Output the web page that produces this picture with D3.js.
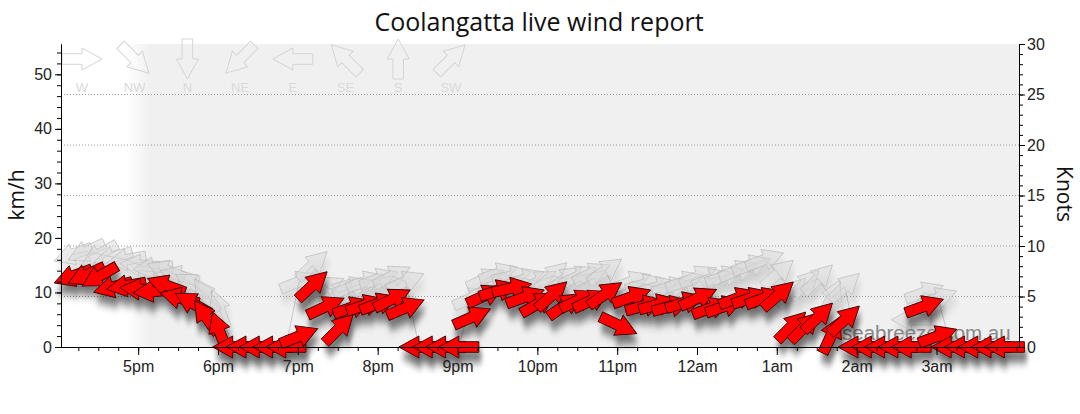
<!DOCTYPE html>
<html>
<head>
<meta charset="utf-8">
<script src="https://cdn.jsdelivr.net/npm/d3@7"></script>
<style>
  body { margin: 0; background: #fff; }
  svg { display: block; }
  .axis text { font-family: "Liberation Sans", Arial, sans-serif; font-size: 16px; fill: #222; }
  .axis path, .axis line { stroke: #000; }
</style>
</head>
<body>
<div id="chart"></div>
<script>
// observations every 10 minutes, 4:11pm -> 3:51am
var times = [
  "16:11","16:21","16:31","16:41","16:51",
  "17:01","17:11","17:21","17:31","17:41","17:51",
  "18:01","18:11","18:21","18:31","18:41","18:51",
  "19:01","19:11","19:21","19:31","19:41","19:51",
  "20:01","20:11","20:21","20:31","20:41","20:51",
  "21:01","21:11","21:21","21:31","21:41","21:51",
  "22:01","22:11","22:21","22:31","22:41","22:51",
  "23:01","23:11","23:21","23:31","23:41","23:51",
  "00:01","00:11","00:21","00:31","00:41","00:51",
  "01:01","01:11","01:21","01:31","01:41","01:51",
  "02:01","02:11","02:21","02:31","02:41","02:51",
  "03:01","03:11","03:21","03:31","03:41","03:51"
];
// wind speed, km/h
var speeds = [
  13, 13.2, 13, 11, 11.2,
  10.6, 10.2, 11.3, 9, 8, 5.5,
  3, 0, 0, 0, 0, 0,
  2, 11.3, 7.4, 3.4, 7.3, 7.7,
  8, 8.8, 7.2, 0, 0, 0,
  0, 5.5, 9.5, 10.4, 10.8, 9.2,
  8, 9.5, 7.7, 8.6, 8.6, 9.7,
  4, 9.2, 7.6, 7.8, 7.5, 8.2,
  9, 7.2, 7.5, 9, 9, 9,
  9.5, 3.8, 3.7, 5.5, 2.2, 5,
  0, 0, 0, 0, 0, 7.5,
  2, 0, 0, 0, 0, 0
];
// gusts, km/h
var gusts = [
  17, 17.5, 17, 16.5, 16,
  15, 14.5, 14, 13, 11.5, 9.5,
  7, 0, 0, 0, 0, 0,
  12, 15, 11, 10, 11, 12,
  12.5, 13, 12, 0, 0, 0,
  0, 9, 12.5, 13.5, 13, 12.5,
  12, 13, 12.5, 13, 13.5, 14,
  9, 12, 11.5, 11, 11, 12,
  13, 12.5, 13, 14, 15, 16,
  13.5, 10, 11.5, 12.5, 9, 11,
  0, 0, 0, 0, 5, 10,
  9, 0, 0, 0, 0, 0
];
// direction the wind comes from, degrees
var directions = [
  70, 65, 60, 75, 80,
  95, 85, 110, 105, 120, 145,
  160, 90, 90, 90, 90, 90,
  248, 227, 245, 225, 250, 252,
  250, 243, 247, 90, 90, 90,
  90, 246, 245, 252, 258, 250,
  240, 228, 235, 245, 245, 235,
  295, 250, 255, 255, 255, 252,
  245, 250, 250, 250, 252, 250,
  229, 225, 225, 226, 205, 227,
  90, 90, 90, 90, 90, 250,
  250, 90, 90, 90, 90, 90
];
var hourLabels = ["5pm","6pm","7pm","8pm","9pm","10pm","11pm","12am","1am","2am","3am"];
var compassLabels = ["W","NW","N","NE","E","SE","S","SW"];
var compassDirs = [270, 315, 0, 45, 90, 135, 180, 225];

var width = 1080, height = 414;
var plotLeft = 61, plotRight = 1019, plotTop = 44, plotBottom = 347;
var kmhPerKnot = 1.852;

var svg = d3.select("#chart").append("svg")
    .attr("width", width)
    .attr("height", height);

function parseTime(s) {
    var p = s.split(":").map(Number);
    return new Date(2024, 0, p[0] < 12 ? 2 : 1, p[0], p[1]);
}

var data = times.map(function (t, i) {
    return { time: parseTime(t), speed: speeds[i], gust: gusts[i], dir: directions[i] };
});

var x = d3.scaleTime()
    .domain([new Date(2024, 0, 1, 16, 2), new Date(2024, 0, 2, 4, 2)])
    .range([plotLeft, plotRight]);
var y = d3.scaleLinear().domain([0, 30 * kmhPerKnot]).range([plotBottom, plotTop]);
var yKnots = d3.scaleLinear().domain([0, 30]).range([plotBottom, plotTop]);

// block arrow pointing right, anchored at the head base
var arrowPath = "M20,0 L0,-11 L0,-5.3 L-20,-5.3 L-20,5.3 L0,5.3 L0,11 Z";
var rot = function (dir) { return dir + 90; };

var defs = svg.append("defs");
var grad = defs.append("linearGradient")
    .attr("id", "night")
    .attr("gradientUnits", "userSpaceOnUse")
    .attr("x1", 126).attr("x2", 150).attr("y1", 0).attr("y2", 0);
grad.append("stop").attr("offset", 0).attr("stop-color", "#fff");
grad.append("stop").attr("offset", 1).attr("stop-color", "#f0f0f0");

function shadow(id, opacity) {
    var f = defs.append("filter").attr("id", id)
        .attr("filterUnits", "userSpaceOnUse")
        .attr("x", 0).attr("y", 0).attr("width", width).attr("height", height);
    f.append("feGaussianBlur").attr("in", "SourceAlpha").attr("stdDeviation", "2 5");
    f.append("feOffset").attr("dx", 2).attr("dy", 9);
    f.append("feComponentTransfer").append("feFuncA").attr("type", "linear").attr("slope", opacity);
    var m = f.append("feMerge");
    m.append("feMergeNode");
    m.append("feMergeNode").attr("in", "SourceGraphic");
}
shadow("redShadow", 0.55);
shadow("greyShadow", 0.2);

// plot background
svg.append("rect")
    .attr("x", plotLeft).attr("y", plotTop)
    .attr("width", plotRight - plotLeft).attr("height", plotBottom - plotTop)
    .attr("fill", "url(#night)");

// dotted grid on knots
svg.append("g")
    .selectAll("line")
    .data([5, 10, 15, 20, 25])
    .join("line")
    .attr("x1", plotLeft).attr("x2", plotRight)
    .attr("y1", d => yKnots(d)).attr("y2", d => yKnots(d))
    .attr("stroke", "#999")
    .attr("stroke-dasharray", "1,2");

// compass key
var key = svg.append("g");
key.selectAll("path")
    .data(compassDirs)
    .join("path")
    .attr("d", arrowPath)
    .attr("transform", (d, i) => "translate(" + (82 + i * 52.7) + ",59) rotate(" + rot(d) + ")")
    .attr("fill", "none")
    .attr("stroke", "#d4d4d4");
key.selectAll("text")
    .data(compassLabels)
    .join("text")
    .attr("x", (d, i) => 82 + i * 52.7)
    .attr("y", 92)
    .attr("text-anchor", "middle")
    .style("font-family", "Liberation Sans, Arial, sans-serif")
    .style("font-size", "13px")
    .attr("fill", "#dadada")
    .text(d => d);

// gust line
svg.append("path")
    .datum(data)
    .attr("fill", "none")
    .attr("stroke", "#bbb")
    .attr("stroke-width", 0.8)
    .attr("d", d3.line().x(d => x(d.time)).y(d => y(d.gust)));

// gust arrows
svg.append("g")
    .attr("filter", "url(#greyShadow)")
    .selectAll("path")
    .data(data)
    .join("path")
    .attr("d", arrowPath)
    .attr("transform", d => "translate(" + x(d.time) + "," + y(d.gust) + ") rotate(" + rot(d.dir) + ")")
    .attr("fill", "#d6d6d6")
    .attr("fill-opacity", 0.45)
    .attr("stroke", "#b8b8b8")
    .attr("stroke-opacity", 0.8)
    .attr("stroke-width", 0.8);

svg.append("text")
    .attr("x", 842).attr("y", 340)
    .style("font-family", "Liberation Sans, Arial, sans-serif")
    .style("font-size", "20.5px")
    .attr("fill", "#888")
    .text("seabreeze.com.au");

// wind arrows
svg.append("g")
    .attr("filter", "url(#redShadow)")
    .selectAll("path")
    .data(data)
    .join("path")
    .attr("d", arrowPath)
    .attr("transform", d => "translate(" + x(d.time) + "," + y(d.speed) + ") rotate(" + rot(d.dir) + ")")
    .attr("fill", "#ff0000")
    .attr("stroke", "#3a0000")
    .attr("stroke-width", 0.9);

// axes
var hourTicks = hourLabels.map((d, i) => new Date(2024, 0, 1, 17 + i, 0));
var minorTicks = d3.timeMinute.every(15).range(x.domain()[0], x.domain()[1]);

svg.append("g").attr("class", "axis")
    .attr("transform", "translate(0," + plotBottom + ")")
    .call(d3.axisBottom(x).tickValues(minorTicks).tickSize(4).tickSizeOuter(0).tickFormat(""));
svg.append("g").attr("class", "axis")
    .attr("transform", "translate(0," + plotBottom + ")")
    .call(d3.axisBottom(x).tickValues(hourTicks).tickSize(8).tickSizeOuter(0).tickPadding(6)
        .tickFormat((d, i) => hourLabels[i]));

svg.append("g").attr("class", "axis")
    .attr("transform", "translate(" + plotLeft + ",0)")
    .call(d3.axisLeft(y).tickValues(d3.range(0, 56, 2)).tickSize(4).tickSizeOuter(0).tickFormat(""));
svg.append("g").attr("class", "axis")
    .attr("transform", "translate(" + plotLeft + ",0)")
    .call(d3.axisLeft(y).tickValues(d3.range(0, 51, 10)).tickSize(6).tickSizeOuter(0));

svg.append("g").attr("class", "axis")
    .attr("transform", "translate(" + plotRight + ",0)")
    .call(d3.axisRight(yKnots).tickValues(d3.range(0, 31, 1)).tickSize(4).tickSizeOuter(0).tickFormat(""));
svg.append("g").attr("class", "axis")
    .attr("transform", "translate(" + plotRight + ",0)")
    .call(d3.axisRight(yKnots).tickValues(d3.range(0, 31, 5)).tickSize(6).tickSizeOuter(0).tickPadding(2));

// titles
svg.append("text")
    .attr("x", 539).attr("y", 31)
    .attr("text-anchor", "middle")
    .style("font-family", "Open Sans, sans-serif")
    .style("font-size", "25px")
    .attr("fill", "#111")
    .text("Coolangatta live wind report");

svg.append("text")
    .attr("transform", "translate(24,195) rotate(-90)")
    .attr("text-anchor", "middle")
    .style("font-family", "Open Sans, sans-serif")
    .style("font-size", "21px")
    .attr("fill", "#111")
    .text("km/h");

svg.append("text")
    .attr("transform", "translate(1057,194) rotate(90)")
    .attr("text-anchor", "middle")
    .style("font-family", "Open Sans, sans-serif")
    .style("font-size", "21px")
    .attr("fill", "#111")
    .text("Knots");
</script>
</body>
</html>
